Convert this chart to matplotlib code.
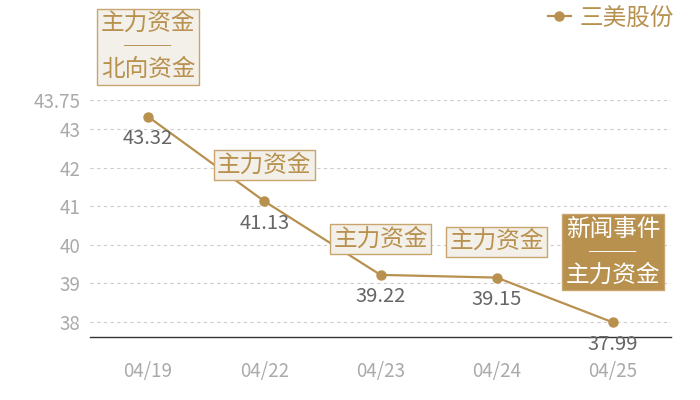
import matplotlib
matplotlib.use("Agg")
import matplotlib.pyplot as plt

plt.rcParams['font.family'] = ['Noto Sans CJK SC', 'DejaVu Sans']

# data
dates = ['04/19', '04/22', '04/23', '04/24', '04/25']
prices = [43.32, 41.13, 39.22, 39.15, 37.99]
events = ['主力资金\n──\n北向资金', '主力资金', '主力资金', '主力资金', '新闻事件\n──\n主力资金']
series_name = '三美股份'
y_ticks = [38, 39, 40, 41, 42, 43, 43.75]

GOLD = '#B8914F'
BOX_FILL = '#F3EFE9'
BOX_EDGE = '#C9A46E'

fig = plt.figure(figsize=(7, 4), dpi=100)
ax = fig.add_axes([90 / 700, 63 / 400, 581 / 700, 237 / 400])

x = list(range(len(dates)))
ax.plot(x, prices, color=GOLD, lw=1.6, marker='o', markersize=6.5, label=series_name, zorder=3)

ax.set_xlim(-0.5, len(dates) - 0.5)
ax.set_ylim(min(prices) * 0.99, max(prices) * 1.01)
ax.set_xticks(x)
ax.set_xticklabels(dates)
ax.set_yticks(y_ticks)
ax.set_yticklabels([f'{v:g}' for v in y_ticks])
ax.tick_params(axis='both', length=0, labelsize=13.5, labelcolor='#AAAAAA')
ax.tick_params(axis='x', pad=17)
ax.tick_params(axis='y', pad=7)

for s in ['top', 'right', 'left']:
    ax.spines[s].set_visible(False)
ax.spines['bottom'].set_color('#333333')
ax.spines['bottom'].set_linewidth(1)
ax.yaxis.grid(True, linestyle=(0, (3, 3)), color='#CCCCCC', lw=0.8)
ax.set_axisbelow(True)

# value labels under the points
for xi, v in zip(x, prices):
    ax.annotate(f'{v:.2f}', (xi, v), xytext=(0, -22), textcoords='offset pixels',
                ha='center', va='center', fontsize=14.5, color='#666666', zorder=5)

# event boxes above the points
for i, (xi, v, txt) in enumerate(zip(x, prices, events)):
    two = '\n' in txt
    last = i == len(events) - 1
    ax.annotate(txt, (xi, v), xytext=(0, 70 if two else 36), textcoords='offset pixels',
                ha='center', va='center', fontsize=17, linespacing=1.0,
                color='white' if last else GOLD, annotation_clip=False, zorder=6,
                bbox=dict(boxstyle='square,pad=0.15', fc=GOLD if last else BOX_FILL,
                          ec=BOX_EDGE, lw=1))

leg = ax.legend(loc='center right', bbox_to_anchor=(674 / 700, 1 - 18 / 400),
                bbox_transform=fig.transFigure, frameon=False, fontsize=17,
                labelcolor=GOLD, handlelength=1.0, handletextpad=0.35,
                borderpad=0, borderaxespad=0)

fig.savefig('out.png', dpi=100)
